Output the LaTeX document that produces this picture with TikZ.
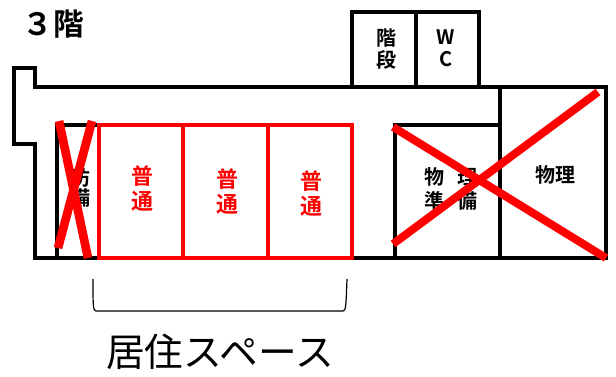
\documentclass[tikz,border=0pt]{standalone}
\usepackage{fontspec}
\newfontfamily\jp{Noto Sans CJK JP}
\newfontfamily\jpb{Noto Sans CJK JP Bold}
\tikzset{
 wall/.style={draw=black,line width=3pt,line cap=butt,line join=miter},
 redwall/.style={draw=red,line width=3pt},
 xmark/.style={draw=red,line width=6pt},
 lab/.style={font=\jpb\fontsize{15}{16}\selectfont,inner sep=0pt,text=black},
 redlab/.style={font=\jpb\fontsize{16.5}{17}\selectfont,inner sep=0pt,text=red},
}
\begin{document}
\begin{tikzpicture}[x=0.75pt,y=-0.75pt]
\useasboundingbox (0,0) rectangle (616,376);
\fill[white] (0,0) rectangle (616,376);
\draw[wall] (35,87) -- (35,68) -- (14,68) -- (14,144) -- (35,144) -- (35,258) -- (606,258) -- (606,87) -- cycle;
\draw[wall] (352,87) -- (352,12) -- (479,12) -- (479,87);
\draw[wall] (416,12) -- (416,87);
\draw[wall] (500,87) -- (500,258);
\draw[wall] (395,258) -- (395,125) -- (500,125);
\draw[wall] (57,258) -- (57,125) -- (99,125);
\node[lab] (a1) at (80,178) {防};
\node[lab] (a2) at (80,198) {備};
\node[redlab] (f1) at (142,176) {普};
\node[redlab] (f2) at (142,201) {通};
\node[redlab] (g1) at (227,179) {普};
\node[redlab] (g2) at (227,204) {通};
\node[redlab] (h1) at (311,181) {普};
\node[redlab] (h2) at (311,206) {通};
\draw[redwall] (99,125) rectangle (352,258);
\draw[redwall] (183,125) -- (183,258);
\draw[redwall] (268,125) -- (268,258);
\node[lab] (s1) at (386,38) {階};
\node[lab] (s2) at (386,60) {段};
\node[lab] (w1) at (446,37) {W};
\node[lab] (w2) at (446,59) {C};
\node[lab] (p1) at (434,177) {物};
\node[lab] (p2) at (467,177) {理};
\node[lab] (p3) at (434,201) {準};
\node[lab] (p4) at (467,201) {備};
\node[lab] (q1) at (555,175) {物理};
\draw[xmark,line width=6.5pt] (59,121) -- (88,258);
\draw[xmark,line width=6.5pt] (92,121) -- (58,248);
\draw[xmark] (393,127) -- (606,258);
\draw[xmark] (393,244) -- (598,92);
\node[inner sep=0pt,font=\jpb\fontsize{23}{24}\selectfont] (t) at (53,24) {３階};
\draw[line width=0.9pt] (93,279) .. controls (93,305) and (93,311) .. (96,311) -- (343,311) .. controls (346,311) and (346,305) .. (347,279);
\node[inner sep=0pt,font=\jp\fontsize{29}{30}\selectfont] (c) at (220,352) {居住スペース};
\end{tikzpicture}
\end{document}
